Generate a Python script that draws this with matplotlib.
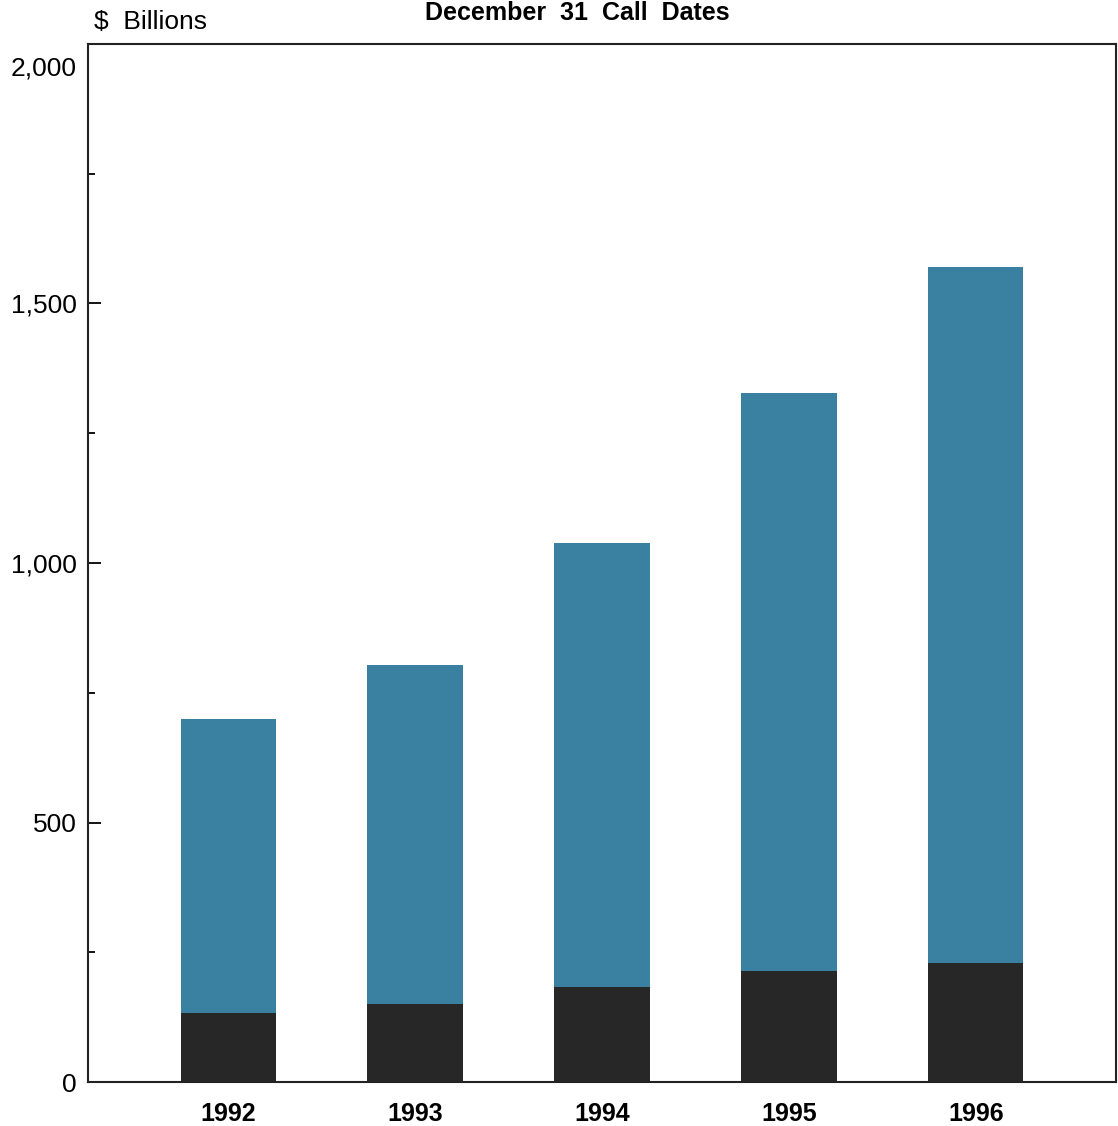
import numpy as np
import matplotlib.pyplot as plt
from matplotlib.ticker import FuncFormatter, MultipleLocator

plt.rcParams['font.family'] = ['Liberation Sans', 'DejaVu Sans']

# data ($ billions)
years = ["1992", "1993", "1994", "1995", "1996"]
total = np.array([699, 803, 1039, 1328, 1571])
dark_part = np.array([133, 150, 183, 214, 230])
blue_part = total - dark_part
y_top = 2000

fig = plt.figure(figsize=(11.18, 11.26), dpi=100)
ax = fig.add_axes([0.0787, 0.039, 0.9195, 0.922])

x = np.arange(len(years))
ax.bar(x, dark_part, width=0.51, color="#272727")
ax.bar(x, blue_part, bottom=dark_part, width=0.51, color="#3a80a0")

ax.set_xlim(-0.75, len(years) - 0.25)
ax.set_ylim(0, y_top)
ax.yaxis.set_major_locator(MultipleLocator(500))
ax.yaxis.set_minor_locator(MultipleLocator(250))
# top label is drawn a bit below the frame, like in the original
ax.yaxis.set_major_formatter(
    FuncFormatter(lambda v, p: "" if v >= y_top else f"{int(v):,}"))
ax.annotate(f"{y_top:,}", xy=(0, y_top), xycoords=("axes fraction", "data"),
            xytext=(-8, -18), textcoords="offset points",
            ha="right", va="center", fontsize=19)
ax.tick_params(axis="y", which="major", direction="in", length=9, width=1.3,
               labelsize=19, pad=8)
ax.tick_params(axis="y", which="minor", direction="in", length=5, width=1.3)
ax.set_xticks(x)
ax.set_xticklabels(years, fontweight="bold")
ax.tick_params(axis="x", length=0, labelsize=18, pad=14)
for s in ax.spines.values():
    s.set_linewidth(1.5)
    s.set_color("#222222")

fig.text(0.084, 0.970, "$  Billions", fontsize=19, va="bottom", ha="left")
fig.text(0.516, 0.999, "December  31  Call  Dates", fontsize=18,
         fontweight="bold", ha="center", va="top")

fig.savefig("out.png", dpi=100)
